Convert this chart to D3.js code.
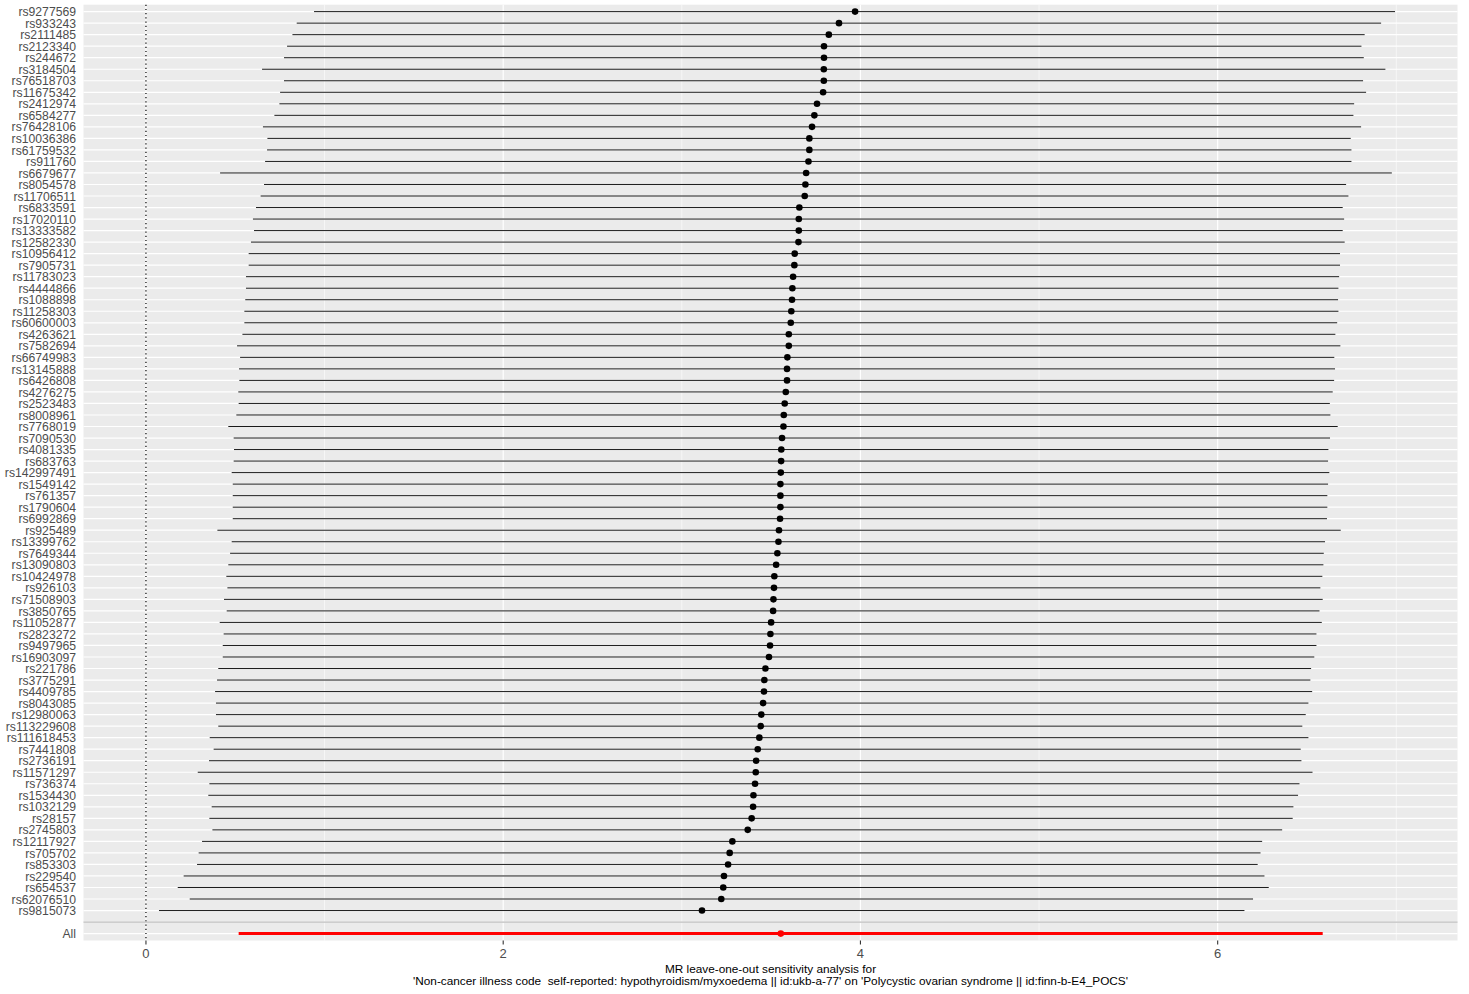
<!DOCTYPE html>
<html>
<head>
<meta charset="utf-8">
<script src="https://cdn.jsdelivr.net/npm/d3@7"></script>
<style>
  html, body { margin: 0; padding: 0; background: #ffffff; }
  svg { display: block; font-family: "Liberation Sans", Arial, Helvetica, sans-serif; }
</style>
</head>
<body>
<svg id="chart" width="1469" height="994"></svg>
<script>
// ---- data (top to bottom) ----
const snps = ["rs9277569","rs933243","rs2111485","rs2123340","rs244672","rs3184504","rs76518703","rs11675342","rs2412974","rs6584277",
"rs76428106","rs10036386","rs61759532","rs911760","rs6679677","rs8054578","rs11706511","rs6833591","rs17020110","rs13333582",
"rs12582330","rs10956412","rs7905731","rs11783023","rs4444866","rs1088898","rs11258303","rs60600003","rs4263621","rs7582694",
"rs66749983","rs13145888","rs6426808","rs4276275","rs2523483","rs8008961","rs7768019","rs7090530","rs4081335","rs683763",
"rs142997491","rs1549142","rs761357","rs1790604","rs6992869","rs925489","rs13399762","rs7649344","rs13090803","rs10424978",
"rs926103","rs71508903","rs3850765","rs11052877","rs2823272","rs9497965","rs16903097","rs221786","rs3775291","rs4409785",
"rs8043085","rs12980063","rs113229608","rs111618453","rs7441808","rs2736191","rs11571297","rs736374","rs1534430","rs1032129",
"rs28157","rs2745803","rs12117927","rs705702","rs853303","rs229540","rs654537","rs62076510","rs9815073"];

const b = [3.970,3.880,3.823,3.796,3.796,3.795,3.795,3.791,3.757,3.742,
3.729,3.714,3.714,3.709,3.696,3.692,3.688,3.658,3.655,3.655,
3.653,3.632,3.630,3.623,3.619,3.617,3.613,3.610,3.599,3.599,
3.591,3.589,3.589,3.582,3.576,3.571,3.569,3.561,3.557,3.556,
3.554,3.552,3.552,3.552,3.550,3.544,3.541,3.535,3.528,3.518,
3.516,3.513,3.511,3.500,3.496,3.494,3.488,3.468,3.462,3.460,
3.455,3.445,3.442,3.434,3.425,3.416,3.414,3.410,3.401,3.399,
3.391,3.369,3.283,3.268,3.259,3.236,3.232,3.221,3.113];

const lo = [0.941,0.844,0.820,0.790,0.773,0.650,0.773,0.751,0.747,0.719,
0.655,0.680,0.678,0.667,0.415,0.661,0.642,0.616,0.599,0.605,
0.588,0.575,0.575,0.560,0.560,0.556,0.551,0.551,0.540,0.510,
0.527,0.521,0.523,0.517,0.519,0.506,0.461,0.491,0.493,0.491,
0.480,0.486,0.486,0.486,0.486,0.400,0.480,0.471,0.461,0.450,
0.456,0.437,0.452,0.413,0.435,0.430,0.430,0.405,0.398,0.387,
0.392,0.392,0.405,0.357,0.379,0.353,0.290,0.355,0.349,0.368,
0.355,0.372,0.314,0.295,0.286,0.211,0.178,0.245,0.073];

const up = [6.993,6.915,6.823,6.805,6.818,6.939,6.814,6.831,6.764,6.760,
6.803,6.745,6.749,6.749,6.975,6.719,6.732,6.700,6.708,6.700,
6.711,6.685,6.685,6.680,6.676,6.674,6.676,6.669,6.659,6.687,
6.653,6.657,6.652,6.644,6.628,6.631,6.672,6.629,6.620,6.618,
6.625,6.618,6.614,6.614,6.612,6.689,6.601,6.594,6.592,6.586,
6.575,6.588,6.570,6.583,6.553,6.553,6.541,6.523,6.519,6.529,
6.508,6.493,6.474,6.508,6.465,6.469,6.531,6.458,6.450,6.424,
6.420,6.361,6.249,6.240,6.224,6.262,6.286,6.198,6.150];

const allLabel = "All";
const allB = 3.554, allLo = 0.519, allUp = 6.588;

const xTicks = [0, 2, 4, 6];
const xMinor = [1, 3, 5, 7];
const titleLines = ["MR leave-one-out sensitivity analysis for",
  "'Non-cancer illness code  self-reported: hypothyroidism/myxoedema || id:ukb-a-77' on 'Polycystic ovarian syndrome || id:finn-b-E4_POCS'"];

// ---- layout ----
const svg = d3.select("#chart");
const P = { left: 83.5, right: 1457.5, top: 4.7, bottom: 940.5 };

const rows = snps.map((s, i) => ({ snp: s, b: b[i], lo: lo[i], up: up[i] }));
const allRow = { snp: allLabel, b: allB, lo: allLo, up: allUp };
const domainY = snps.concat(["", allLabel]);

const xs = [0].concat(lo, up, [allLo, allUp]);
const xmin = d3.min(xs), xmax = d3.max(xs), pad = (xmax - xmin) * 0.05;
const x = d3.scaleLinear().domain([xmin - pad, xmax + pad]).range([P.left, P.right]);
const y = d3.scalePoint().domain(domainY).range([P.top, P.bottom]).padding(0.6);

// panel
svg.append("rect").attr("x", P.left).attr("y", P.top)
  .attr("width", P.right - P.left).attr("height", P.bottom - P.top).attr("fill", "#EBEBEB");

const grid = svg.append("g");
grid.selectAll(".vmin").data(xMinor).join("line")
  .attr("x1", d => x(d)).attr("x2", d => x(d)).attr("y1", P.top).attr("y2", P.bottom)
  .attr("stroke", "#ffffff").attr("stroke-width", 0.6);
grid.selectAll(".vmaj").data(xTicks).join("line")
  .attr("x1", d => x(d)).attr("x2", d => x(d)).attr("y1", P.top).attr("y2", P.bottom)
  .attr("stroke", "#ffffff").attr("stroke-width", 1.2);
grid.selectAll(".hmaj").data(domainY).join("line")
  .attr("x1", P.left).attr("x2", P.right).attr("y1", d => y(d)).attr("y2", d => y(d))
  .attr("stroke", "#ffffff").attr("stroke-width", 1.2);

// vline at 0 dotted
svg.append("line").attr("x1", x(0)).attr("x2", x(0)).attr("y1", P.top).attr("y2", P.bottom)
  .attr("stroke", "#000").attr("stroke-width", 1.2).attr("stroke-dasharray", "1.2,3");

// error bars
svg.append("g").selectAll("line").data(rows).join("line")
  .attr("x1", d => x(d.lo)).attr("x2", d => x(d.up))
  .attr("y1", d => y(d.snp)).attr("y2", d => y(d.snp))
  .attr("stroke", "#000").attr("stroke-width", 0.9);
svg.append("line")
  .attr("x1", x(allRow.lo)).attr("x2", x(allRow.up))
  .attr("y1", y(allRow.snp)).attr("y2", y(allRow.snp))
  .attr("stroke", "#FF0000").attr("stroke-width", 3);

// points
svg.append("g").selectAll("circle").data(rows).join("circle")
  .attr("cx", d => x(d.b)).attr("cy", d => y(d.snp)).attr("r", 3.3).attr("fill", "#000");
svg.append("circle").attr("cx", x(allRow.b)).attr("cy", y(allRow.snp)).attr("r", 3.3).attr("fill", "#FF0000");

// grey hline at blank row
svg.append("line").attr("x1", P.left).attr("x2", P.right)
  .attr("y1", y("")).attr("y2", y("")).attr("stroke", "#BEBEBE").attr("stroke-width", 1.3);

// y axis labels
svg.append("g").selectAll("text").data(domainY).join("text")
  .attr("x", P.left - 7.5).attr("y", d => y(d)).attr("dy", "0.38em")
  .attr("text-anchor", "end").attr("font-size", 12.2).attr("fill", "#4D4D4D")
  .text(d => d);

// x axis
const xa = svg.append("g");
xa.selectAll("line").data(xTicks).join("line")
  .attr("x1", d => x(d)).attr("x2", d => x(d)).attr("y1", P.bottom).attr("y2", P.bottom + 4)
  .attr("stroke", "#333333").attr("stroke-width", 1.1);
xa.selectAll("text").data(xTicks).join("text")
  .attr("x", d => x(d)).attr("y", 958).attr("text-anchor", "middle")
  .attr("font-size", 13).attr("fill", "#4D4D4D").text(d => d);

// x axis title
svg.append("g").selectAll("text").data(titleLines).join("text")
  .attr("x", (P.left + P.right) / 2).attr("y", (d, i) => 973 + i * 12.4)
  .attr("text-anchor", "middle").attr("font-size", 11.8).attr("fill", "#000")
  .style("white-space", "pre").text(d => d);
</script>
</body>
</html>
